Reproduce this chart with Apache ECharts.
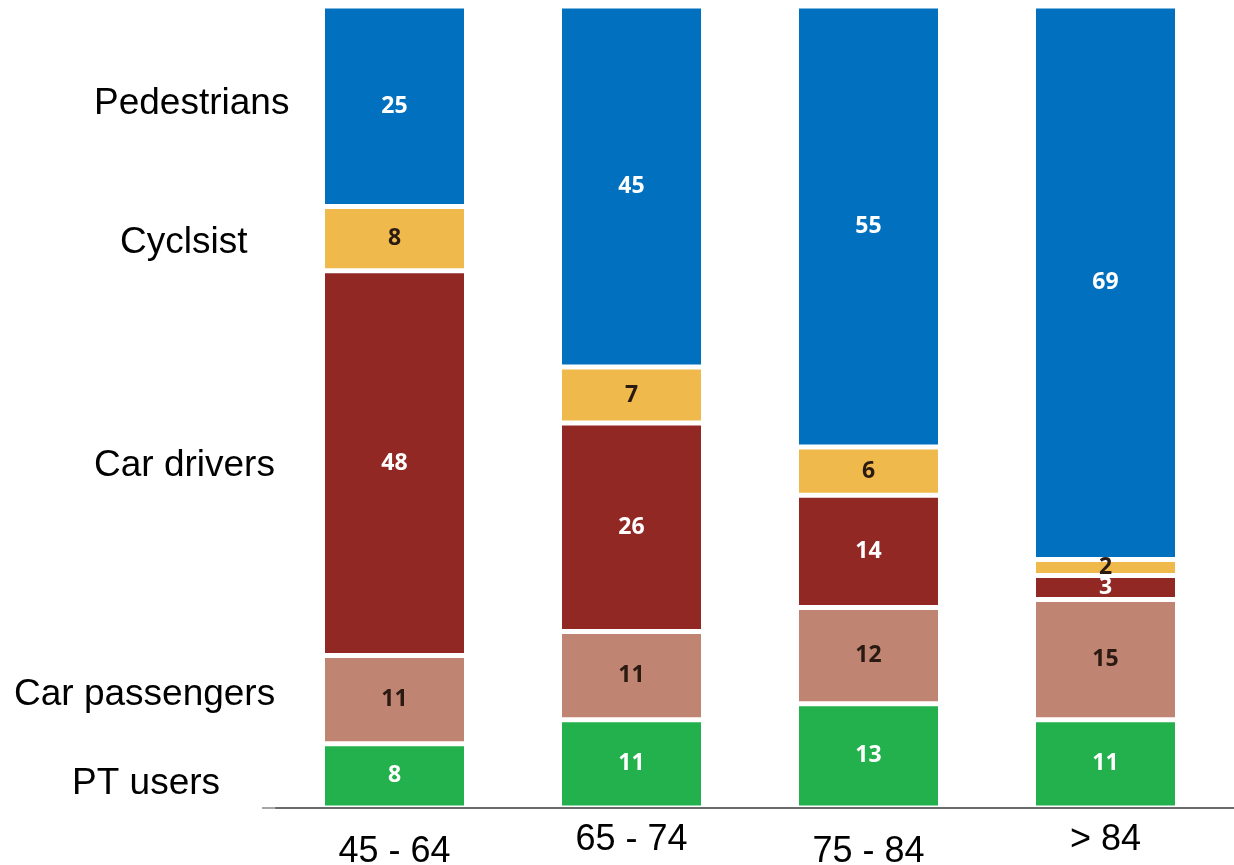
<!DOCTYPE html>
<html>
<head>
<meta charset="utf-8">
<script src="https://cdn.jsdelivr.net/npm/echarts@6/dist/echarts.min.js"></script>
<style>
html,body{margin:0;padding:0;background:#fff;}
#chart{width:1234px;height:865px;}
</style>
</head>
<body>
<div id="chart"></div>
<script>
var categories = ['45 - 64', '65 - 74', '75 - 84', '> 84'];
var ptUsers = [8, 11, 13, 11];
var carPassengers = [11, 11, 12, 15];
var carDrivers = [48, 26, 14, 3];
var cyclists = [8, 7, 6, 2];
var pedestrians = [25, 45, 55, 69];
var seriesNames = ['PT users', 'Car passengers', 'Car drivers', 'Cyclsist', 'Pedestrians'];
var colors = ['#22B14C', '#C08473', '#922824', '#EFB94B', '#0070BF'];
var labelColors = ['#ffffff', '#2a1a12', '#ffffff', '#2a1a12', '#ffffff'];
var values = [ptUsers, carPassengers, carDrivers, cyclists, pedestrians];
var labelRaised = [false, true, false, true]; // x labels sit at two heights in the reference

var chart = echarts.init(document.getElementById('chart'), null, {renderer: 'canvas'});

var series = values.map(function (v, i) {
  return {
    name: seriesNames[i],
    type: 'bar',
    stack: 'total',
    barWidth: 144,
    data: v,
    itemStyle: {color: colors[i], borderColor: '#ffffff', borderWidth: 2.5},
    label: {
      show: true,
      position: 'inside',
      color: labelColors[i],
      fontFamily: 'Open Sans',
      fontWeight: 'bold',
      fontSize: 23
    }
  };
});

var lblFont = '37px "Liberation Sans"';
chart.setOption({
  animation: false,
  grid: {left: 276, right: 10, top: 6, bottom: 57, outerBoundsMode: 'none', containLabel: false},
  xAxis: {
    type: 'category',
    data: categories,
    z: 5,
    axisLine: {show: true, lineStyle: {color: '#6b6b6b', width: 2}},
    axisTick: {show: false},
    axisLabel: {
      margin: 14,
      formatter: function (val, idx) {
        return (labelRaised[idx] ? '{hi|' : '{lo|') + val + '}';
      },
      rich: {
        hi: {fontFamily: 'Liberation Sans', fontSize: 36, color: '#000', padding: [0, 0, 0, 0]},
        lo: {fontFamily: 'Liberation Sans', fontSize: 36, color: '#000', padding: [12, 0, 0, 0]}
      }
    }
  },
  yAxis: {type: 'value', min: 0, max: 100, show: false, splitLine: {show: false}},
  series: series,
  graphic: [
    {type: 'text', left: 94, top: 85, style: {text: 'Pedestrians', font: lblFont, fill: '#000'}},
    {type: 'text', left: 120, top: 224, style: {text: 'Cyclsist', font: lblFont, fill: '#000'}},
    {type: 'text', left: 94, top: 447, style: {text: 'Car drivers', font: lblFont, fill: '#000'}},
    {type: 'text', left: 14, top: 676, style: {text: 'Car passengers', font: lblFont, fill: '#000'}},
    {type: 'text', left: 72, top: 765, style: {text: 'PT users', font: lblFont, fill: '#000'}},
    {type: 'line', shape: {x1: 262, y1: 808, x2: 276, y2: 808}, style: {stroke: '#8a8a8a', lineWidth: 1.5}},
    {type: 'line', shape: {x1: 1224, y1: 808, x2: 1234, y2: 808}, style: {stroke: '#6b6b6b', lineWidth: 2}}
  ]
});
</script>
</body>
</html>
